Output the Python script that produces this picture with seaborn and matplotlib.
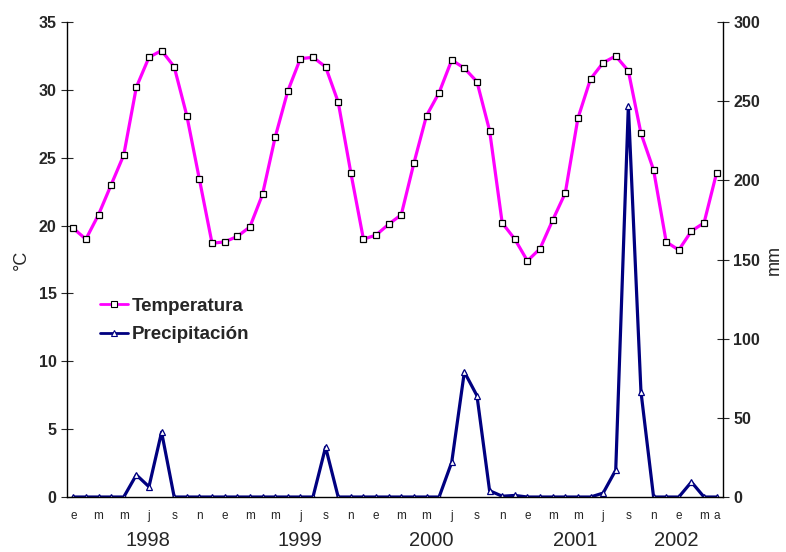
import numpy as np
import pandas as pd
import seaborn as sns
import matplotlib
matplotlib.use("Agg")
import matplotlib.pyplot as plt
from matplotlib.lines import Line2D
from matplotlib.transforms import blended_transform_factory

# monthly series, Jan 1998 - Apr 2002
temperatura = [
    19.8, 19.0, 20.8, 23.0, 25.2, 30.2, 32.4, 32.9, 31.7, 28.1, 23.4, 18.7,
    18.8, 19.2, 19.9, 22.3, 26.5, 29.9, 32.3, 32.4, 31.7, 29.1, 23.9, 19.0,
    19.3, 20.1, 20.8, 24.6, 28.1, 29.8, 32.2, 31.6, 30.6, 27.0, 20.2, 19.0,
    17.4, 18.3, 20.4, 22.4, 27.9, 30.8, 32.0, 32.5, 31.4, 26.8, 24.1, 18.8,
    18.2, 19.6, 20.2, 23.9,
]
precipitacion = [
    0, 0, 0, 0, 0, 14, 6.5, 41, 0, 0, 0, 0,
    0, 0, 0, 0, 0, 0, 0, 0, 31.5, 0, 0, 0,
    0, 0, 0, 0, 0, 0, 22, 79, 64, 4, 0.5, 1,
    0, 0, 0, 0, 0, 0, 2.5, 17, 247, 66.5, 0, 0,
    0, 9.5, 0, 0,
]
mes_labels = ["e", "m", "m", "j", "s", "n"]
years = ["1998", "1999", "2000", "2001", "2002"]
year_at = [5.9, 18.0, 28.4, 39.8, 47.8]

n = len(temperatura)
df = pd.DataFrame({"mes": np.arange(n), "Temperatura": temperatura,
                   "Precipitación": precipitacion})

sns.set_style("white")
plt.rcParams["font.family"] = ["Liberation Sans", "DejaVu Sans"]

fig = plt.figure(figsize=(7.86, 5.52), dpi=100)
ax = fig.add_axes([0.0852, 0.0996, 0.8346, 0.8605])
ax2 = ax.twinx()

sns.lineplot(data=df, x="mes", y="Temperatura", ax=ax, color="#ff00ff",
             linewidth=2.3, marker="s", markersize=5, markerfacecolor="white",
             markeredgecolor="black", markeredgewidth=0.9)
sns.lineplot(data=df, x="mes", y="Precipitación", ax=ax2, color="#000080",
             linewidth=2.3, marker="^", markersize=5, markerfacecolor="white",
             markeredgecolor="#000080", markeredgewidth=0.9)

ax.set_xlim(-0.5, n - 0.5)
ax.set_ylim(0, 35)
ax2.set_ylim(0, 300)
ax.set_yticks(range(0, 36, 5))
ax2.set_yticks(range(0, 301, 50))

# month labels every other month, plus the last one
ticks = list(range(0, n, 2)) + [n - 1]
labels = [mes_labels[(i % 12) // 2] for i in range(0, n, 2)] + ["a"]
ax.set_xticks(ticks)
ax.set_xticklabels(labels, fontsize=8.5)
ax.set_xticks(np.arange(-0.5, n, 1), minor=True)
ax.tick_params(axis="x", which="major", length=0, pad=9)
ax.tick_params(axis="x", which="minor", length=6, direction="inout", width=0.8)
ax.set_xlabel("")

for a in (ax, ax2):
    for s in a.spines.values():
        s.set_visible(False)
ax.spines["left"].set_visible(True)
ax.spines["bottom"].set_visible(True)
ax2.spines["right"].set_visible(True)
for s in (ax.spines["left"], ax.spines["bottom"], ax2.spines["right"]):
    s.set_color("black")
    s.set_linewidth(1.0)

ax.tick_params(axis="y", length=8, direction="inout", width=0.8, labelsize=11.5)
ax2.tick_params(axis="y", length=8, direction="inout", width=0.8, labelsize=11.5)
for t in ax.get_yticklabels() + ax2.get_yticklabels():
    t.set_fontweight("bold")

ax.set_ylabel("°C", fontsize=13, labelpad=6)
ax2.set_ylabel("mm", fontsize=13, rotation=90, labelpad=4)

trans = blended_transform_factory(ax.transData, ax.transAxes)
for yl, xp in zip(years, year_at):
    ax.text(xp, -0.092, yl, transform=trans, ha="center", va="center",
            fontsize=14.5)

handles = [
    Line2D([], [], color="#ff00ff", linewidth=2, marker="s", markersize=4,
           markerfacecolor="white", markeredgecolor="black", markeredgewidth=0.8),
    Line2D([], [], color="#000080", linewidth=2, marker="^", markersize=4,
           markerfacecolor="white", markeredgecolor="#000080", markeredgewidth=0.8),
]
ax.legend(handles, ["Temperatura", "Precipitación"], loc="upper left",
          bbox_to_anchor=(0.025, 0.455), frameon=False, handlelength=1.5,
          handletextpad=0.2, labelspacing=0.6, prop={"size": 13.5, "weight": "bold"})
if ax2.get_legend() is not None:
    ax2.get_legend().remove()

ax.set_zorder(ax2.get_zorder() + 1)
ax.patch.set_visible(False)

fig.savefig("out.png", dpi=100)
